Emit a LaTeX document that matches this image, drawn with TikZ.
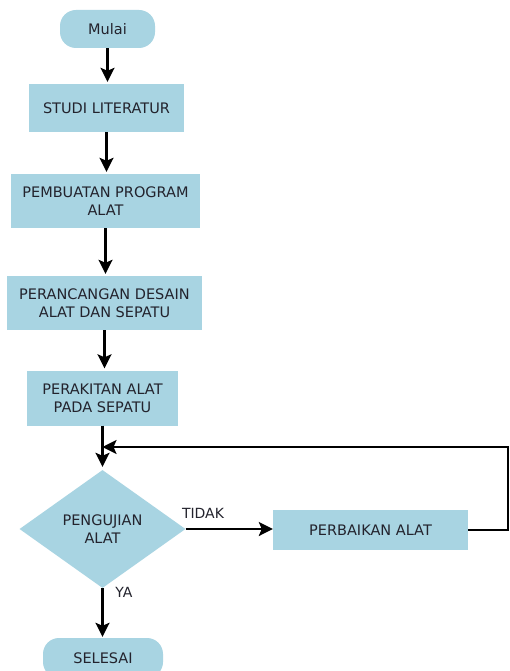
\documentclass[tikz,border=0pt]{standalone}
\usepackage{fontspec}
\setmainfont{DejaVu Sans}
\usetikzlibrary{shapes.geometric,arrows.meta}
\definecolor{boxblue}{RGB}{168,212,226}
\definecolor{txt}{RGB}{35,35,45}
\begin{document}
\begin{tikzpicture}[x=1pt,y=-1pt,
 box/.style={fill=boxblue, draw=none, align=center, text=txt, font=\fontsize{14.5}{18}\selectfont, inner sep=0pt},
 term/.style={box, rounded corners=16pt},
 dec/.style={box, diamond, aspect=1.4},
 flow/.style={line width=2.4pt, -{Stealth[length=14pt,width=14pt,inset=3pt]}},
 lbl/.style={text=txt, font=\fontsize{14}{17}\selectfont, inner sep=0pt}]
\clip (0,0) rectangle (510,671);
\useasboundingbox (0,0) rectangle (510,671);
\fill[white] (0,0) rectangle (510,671);

\node[term, minimum width=95, minimum height=38] (mulai) at (107.5,29) {Mulai};
\node[box, minimum width=155, minimum height=48] (studi) at (106.5,108) {STUDI LITERATUR};
\node[box, minimum width=189, minimum height=54] (prog) at (105.5,201) {PEMBUATAN PROGRAM\\ALAT};
\node[box, minimum width=195, minimum height=54] (desain) at (104.5,303) {PERANCANGAN DESAIN\\ALAT DAN SEPATU};
\node[box, minimum width=151, minimum height=55] (rakit) at (102.5,398) {PERAKITAN ALAT\\PADA SEPATU};
\node[dec, minimum width=166, minimum height=118] (uji) at (102.5,529) {PENGUJIAN\\ALAT};
\node[box, minimum width=195, minimum height=40] (baik) at (370.5,530) {PERBAIKAN ALAT};
\node[term, minimum width=120, minimum height=40] (selesai) at (103,658) {SELESAI};

\node[lbl] (tidak) at (203,513) {TIDAK};
\node[lbl] (ya) at (124,592) {YA};

\coordinate (r2) at (508,447);

\draw[flow] (mulai.south) -- ([yshift=2pt]mulai.south |- studi.north);
\draw[flow] (studi.south) -- ([yshift=2pt]studi.south |- prog.north);
\draw[flow] (prog.south) -- ([yshift=2pt]prog.south |- desain.north);
\draw[flow] (desain.south) -- ([yshift=2pt]desain.south |- rakit.north);
\draw[flow] (rakit.south) -- ([yshift=3pt]rakit.south |- uji.north);
\draw[flow] (uji.east) -- (uji.east -| baik.west);
\draw[flow] (baik.east) -- (baik.east -| r2) -- (r2) -- (r2 -| rakit.south);
\draw[flow] (uji.south) -- ([yshift=1pt]uji.south |- selesai.north);
\end{tikzpicture}
\end{document}
